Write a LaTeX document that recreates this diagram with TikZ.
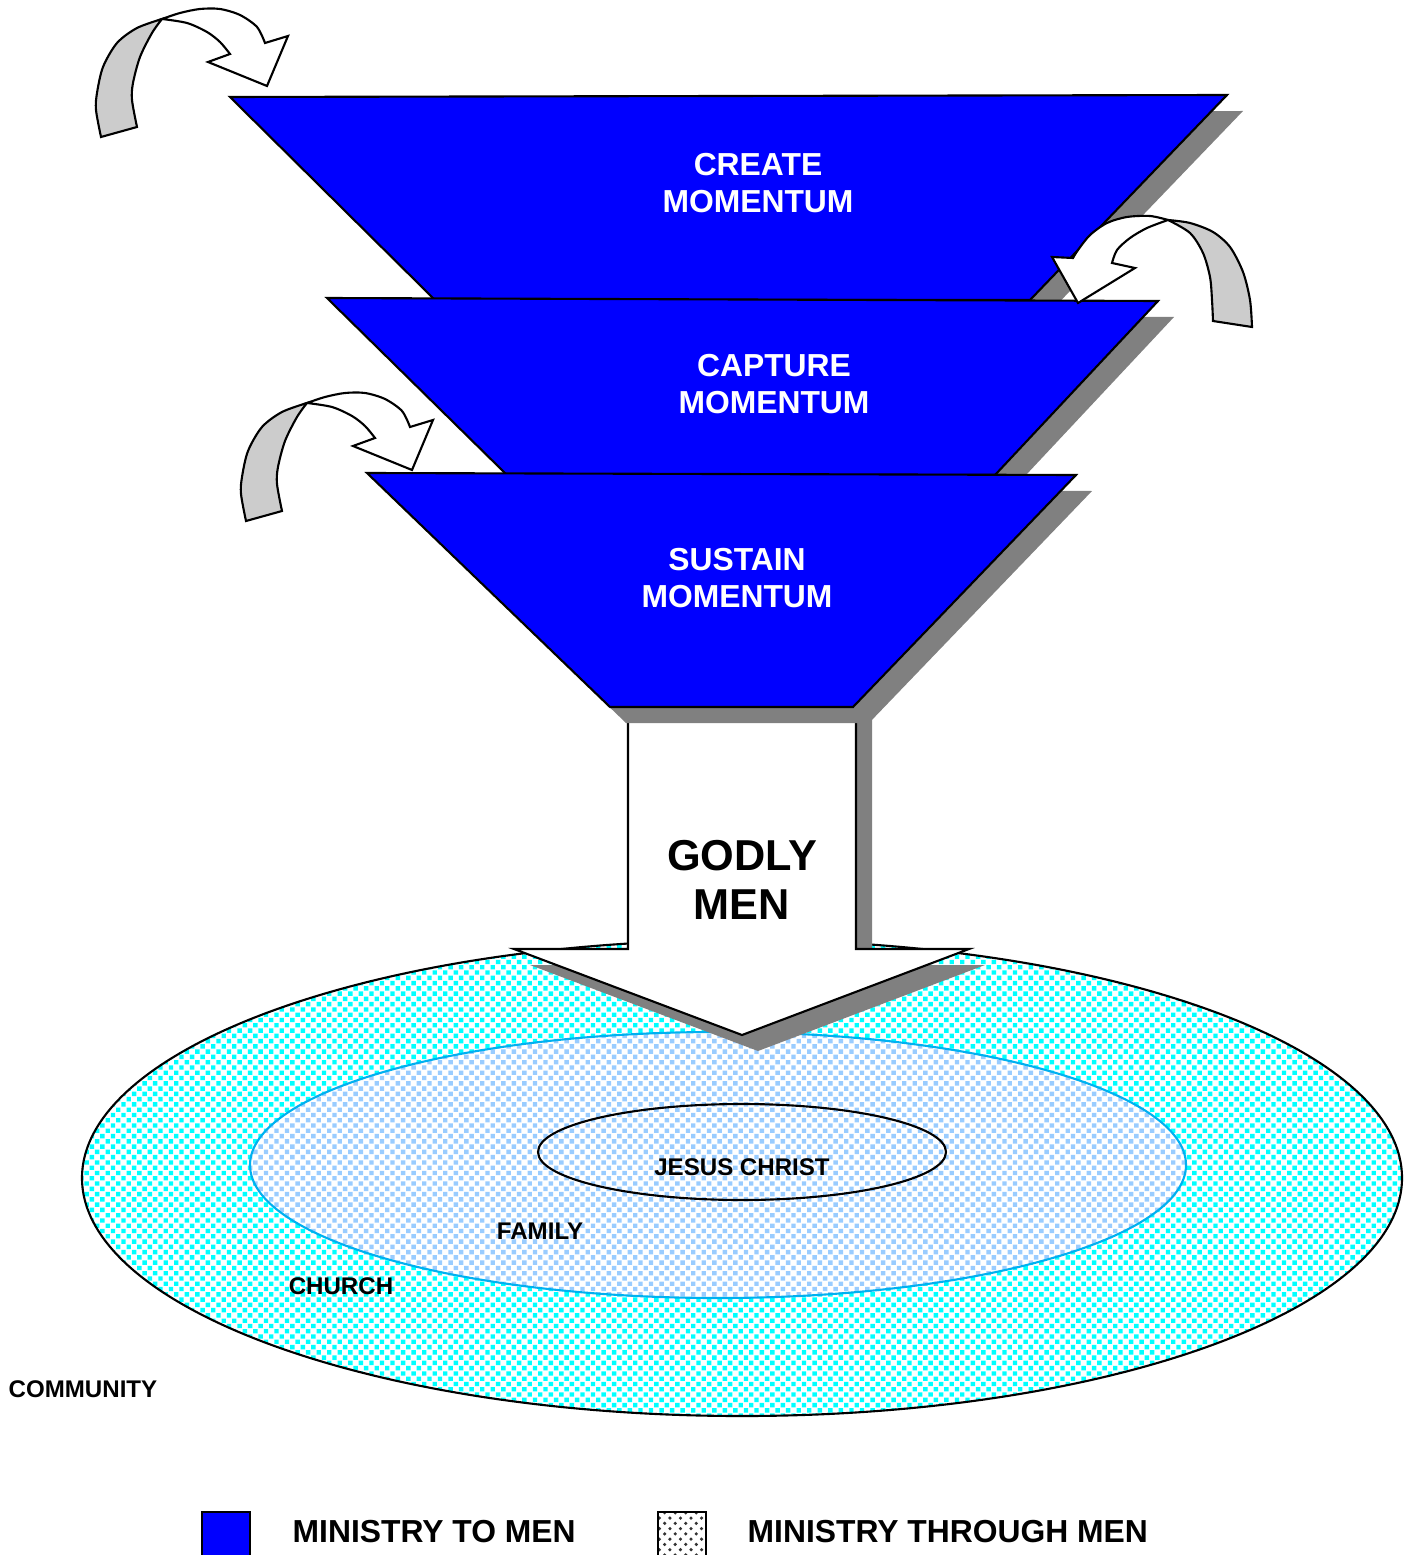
\documentclass[tikz,border=0pt]{standalone}
\usepackage{fontspec}
\setmainfont{Liberation Sans}
\usetikzlibrary{patterns}

\definecolor{funnelblue}{RGB}{0,0,255}
\definecolor{shadowgray}{RGB}{128,128,128}
\definecolor{curlgray}{RGB}{204,204,204}
\definecolor{communitycyan}{RGB}{0,255,255}
\definecolor{familyblue}{RGB}{153,204,255}
\definecolor{churchline}{RGB}{0,176,240}

\pgfdeclarepatternformonly{ringdots}{\pgfqpoint{-0.1pt}{-0.1pt}}{\pgfqpoint{3.1pt}{3.1pt}}{\pgfqpoint{3pt}{3pt}}{%
  \pgfpathrectangle{\pgfqpoint{0pt}{0pt}}{\pgfqpoint{1.25pt}{1.25pt}}%
  \pgfpathrectangle{\pgfqpoint{1.5pt}{1.5pt}}{\pgfqpoint{1.25pt}{1.25pt}}%
  \pgfusepath{fill}}

\begin{document}
\begin{tikzpicture}[x=0.01cm,y=-0.01cm,
    funnel/.style={draw=black,line width=0.6pt,fill=funnelblue},
    castshadow/.style={fill=shadowgray},
    curlback/.style={draw=black,line width=0.6pt,fill=curlgray},
    curlfront/.style={draw=black,line width=0.6pt,fill=white},
    stagelabel/.style={text=white,align=center,font=\fontsize{9.05}{10.5}\selectfont\bfseries},
    ringlabel/.style={inner sep=0pt,font=\fontsize{6.85}{8}\selectfont\bfseries},
    legendlabel/.style={inner sep=0pt,anchor=west,font=\fontsize{9.05}{10}\selectfont\bfseries}]

  \useasboundingbox (0,0) rectangle (1413,1555);

    %%%%%%%%%%RINGS%%%%%%%%%%%%%%%%
    \draw[line width=0.6pt,preaction={fill=white},pattern=ringdots,pattern color=communitycyan] (742,1178) ellipse [x radius=660,y radius=238];
    \draw[line width=0.6pt,draw=churchline,preaction={fill=white},pattern=ringdots,pattern color=familyblue] (718,1165) ellipse [x radius=468,y radius=133];
    \draw[line width=0.6pt] (742,1152) ellipse [x radius=204,y radius=48];

    \node[ringlabel] (jesus) at (742,1167) {JESUS CHRIST};
    \node[ringlabel] (family) at (540,1231) {FAMILY};
    \node[ringlabel] (church) at (341,1286) {CHURCH};
    \node[ringlabel] (community) at (83,1389) {COMMUNITY};

    %%%%%%%%%%GODLY MEN ARROW%%%%%%%%%%%%%%%%
    \fill[castshadow,shift={(16,16)}] (628,700) -- (856,700) -- (856,949) -- (969,949) -- (742,1035) -- (514,949) -- (628,949) -- cycle;
    \draw[line width=0.6pt,fill=white] (628,700) -- (856,700) -- (856,949) -- (969,949) -- (742,1035) -- (514,949) -- (628,949) -- cycle;

    \node[align=center,font=\fontsize{12.3}{13.9}\selectfont\bfseries] (godly) at (742,880) {GODLY\\MEN};

    %%%%%%%%%%FUNNELS%%%%%%%%%%%%%%%%
    \fill[castshadow,shift={(16,16)}] (230,97) -- (1227,95) -- (1030,300) -- (435,300) -- cycle;
    \draw[funnel] (230,97) -- (1227,95) -- (1030,300) -- (435,300) -- cycle;

    \fill[castshadow,shift={(16,16)}] (327,298) -- (1158,301) -- (995,475) -- (507,475) -- cycle;
    \draw[funnel] (327,298) -- (1158,301) -- (995,475) -- (507,475) -- cycle;

    \fill[castshadow,shift={(16,16)}] (367,473) -- (1076,475) -- (853,707) -- (610,707) -- cycle;
    \draw[funnel] (367,473) -- (1076,475) -- (853,707) -- (610,707) -- cycle;

    \node[stagelabel] (create) at (758,183) {CREATE\\MOMENTUM};
    \node[stagelabel] (capture) at (774,384) {CAPTURE\\MOMENTUM};
    \node[stagelabel] (sustain) at (737,578) {SUSTAIN\\MOMENTUM};

    %%%%%%%%%%CURLED ARROWS%%%%%%%%%%%%%%%%
    \draw[curlback] plot[smooth] coordinates {(101,137) (96,110) (97,93) (103,67) (117,43) (137,28) (162,19)}
      -- plot[smooth] coordinates {(162,19) (152,33) (140,57) (133,83) (132,100) (137,127)} -- cycle;
    \draw[curlfront] plot[smooth] coordinates {(162,19) (180,13) (200,9) (220,9) (240,15) (257,27) (265,43)}
      -- (288,36) -- (267,86) -- (208,62)
      -- plot[smooth] coordinates {(230,54) (220,42) (207,32) (187,23) (162,19)} -- cycle;

    \begin{scope}[shift={(145,384)}]
    \draw[curlback] plot[smooth] coordinates {(101,137) (96,110) (97,93) (103,67) (117,43) (137,28) (162,19)}
      -- plot[smooth] coordinates {(162,19) (152,33) (140,57) (133,83) (132,100) (137,127)} -- cycle;
    \draw[curlfront] plot[smooth] coordinates {(162,19) (180,13) (200,9) (220,9) (240,15) (257,27) (265,43)}
      -- (288,36) -- (267,86) -- (208,62)
      -- plot[smooth] coordinates {(230,54) (220,42) (207,32) (187,23) (162,19)} -- cycle;
    \end{scope}

    \draw[curlback] plot[smooth] coordinates {(1252,327) (1250,300) (1243,272) (1230,247) (1213,232) (1190,223) (1168,220)}
      -- plot[smooth] coordinates {(1168,220) (1190,233) (1203,253) (1210,277) (1212,300) (1213,321)} -- cycle;
    \draw[curlfront] plot[smooth] coordinates {(1168,220) (1150,216) (1127,217) (1107,223) (1090,235) (1078,250) (1073,258)}
      -- (1052,257) -- (1078,303) -- (1135,268)
      -- plot[smooth] coordinates {(1112,263) (1117,250) (1130,238) (1147,228) (1168,220)} -- cycle;

    %%%%%%%%%%LEGEND%%%%%%%%%%%%%%%%
    \draw[line width=0.6pt,fill=funnelblue] (202,1512) rectangle (250,1558);
    \node[legendlabel] (legto) at (292,1532) {MINISTRY TO MEN};

    \draw[line width=0.6pt,preaction={fill=white},pattern=crosshatch dots,pattern color=black!80] (658,1512) rectangle (706,1558);
    \node[legendlabel] (legthrough) at (747,1532) {MINISTRY THROUGH MEN};

  \end{tikzpicture}
\end{document}
